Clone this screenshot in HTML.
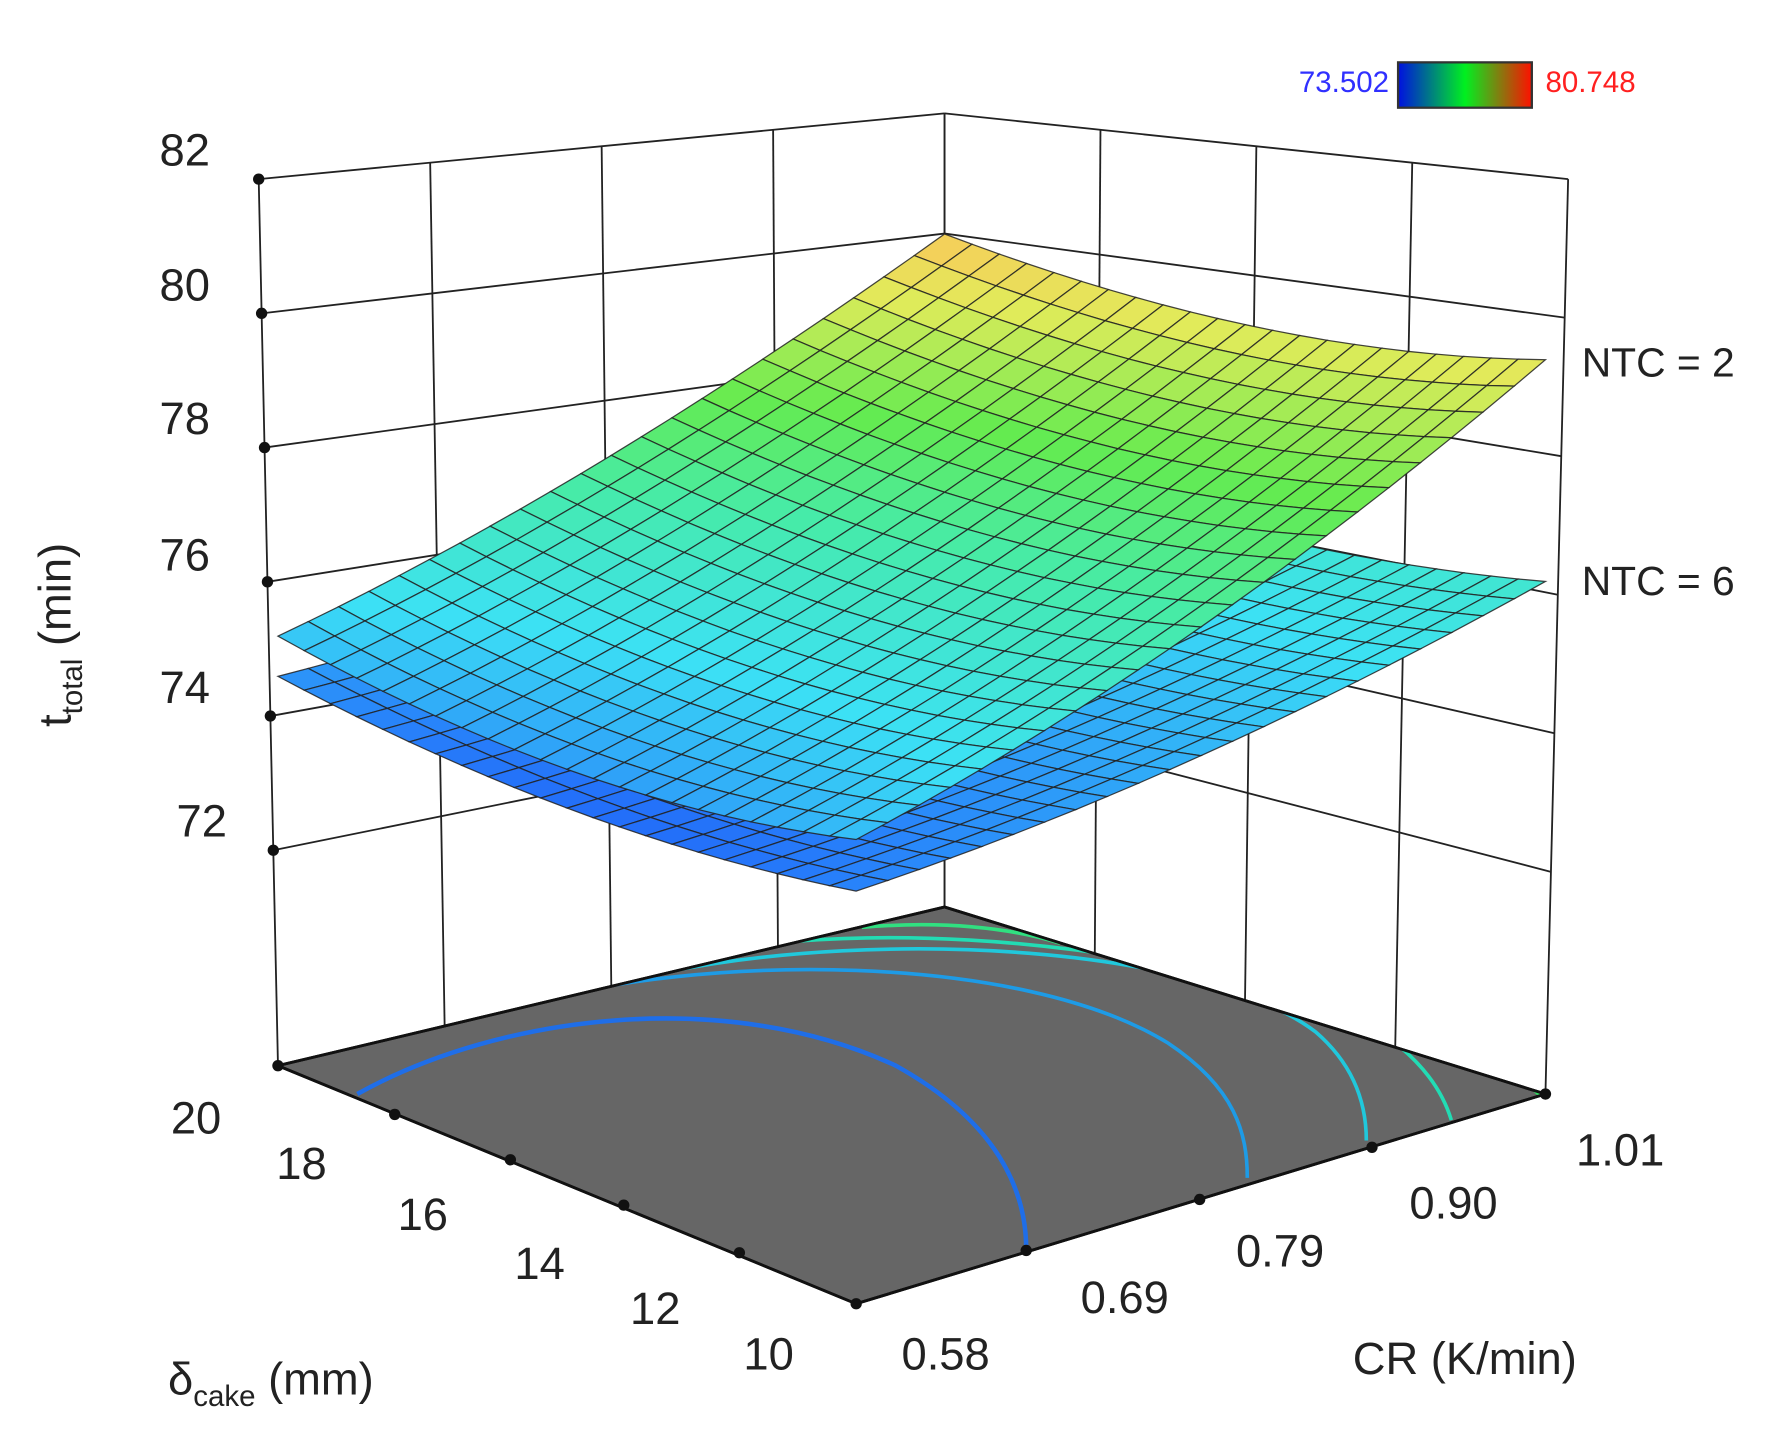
<!DOCTYPE html>
<html><head><meta charset="utf-8"><style>
html,body{margin:0;padding:0;background:#fff;}
svg{display:block;}
text{font-family:"Liberation Sans",sans-serif;}
</style></head><body>
<svg id="s" width="1769" height="1433" viewBox="0 0 1560 1264" xmlns="http://www.w3.org/2000/svg">
<defs>
<linearGradient id="cb" x1="0" x2="1" y1="0" y2="0">
<stop offset="0" stop-color="#0010e0"/><stop offset="0.5" stop-color="#00f020"/><stop offset="1" stop-color="#ff1000"/>
</linearGradient>
<clipPath id="fl"><polygon points="245,940 833,800 1363,965 755,1150"/></clipPath>
</defs>
<g id="walls" stroke="#222" stroke-width="1.6" fill="none"></g>
<polygon points="245,940 833,800 1363,965 755,1150" fill="#666" stroke="#111" stroke-width="2.5"/>
<g fill="none" stroke-width="3.2" clip-path="url(#fl)">
<path d="M315,965 C440,895 640,870 790,940 C880,990 905,1050 905,1102" stroke="#1f6ee8" stroke-width="4"/>
<path d="M455,888 C620,840 900,840 1030,920 C1090,960 1100,1000 1100,1039" stroke="#1e9be6"/>
<path d="M585,858 C780,818 1060,835 1160,910 C1195,940 1205,975 1205,1006" stroke="#20c8dc"/>
<path d="M705,830 C900,815 1130,860 1220,912 C1255,937 1272,962 1280,988" stroke="#22dcb4"/>
<path d="M760,818 C830,812 890,818 935,832" stroke="#30e080"/>
<path d="M1340,950 L1365,972" stroke="#30e060"/>
</g>
<polygon points="245,940 833,800 1363,965 755,1150" fill="none" stroke="#111" stroke-width="2.5"/>
<g id="surf"></g>
<g id="dots" fill="#111"></g>
<g font-size="40" fill="#222">
<text x="185" y="146" text-anchor="end">82</text>
<text x="185" y="265" text-anchor="end">80</text>
<text x="185" y="383" text-anchor="end">78</text>
<text x="185" y="503" text-anchor="end">76</text>
<text x="185" y="620" text-anchor="end">74</text>
<text x="200" y="738" text-anchor="end">72</text>
<text x="195" y="1000" text-anchor="end">20</text>
<text x="288" y="1040" text-anchor="end">18</text>
<text x="395" y="1085" text-anchor="end">16</text>
<text x="498" y="1128" text-anchor="end">14</text>
<text x="600" y="1168" text-anchor="end">12</text>
<text x="700" y="1208" text-anchor="end">10</text>
<text x="795" y="1208">0.58</text>
<text x="953" y="1158">0.69</text>
<text x="1090" y="1117">0.79</text>
<text x="1243" y="1075">0.90</text>
<text x="1390" y="1028">1.01</text>
<text x="1193" y="1212">CR (K/min)</text>
<text x="148" y="1230">δ<tspan font-size="26" dy="10">cake</tspan><tspan dy="-10"> (mm)</tspan></text>
<text transform="translate(62,560) rotate(-90)" text-anchor="middle">t<tspan font-size="26" dy="10">total</tspan><tspan dy="-10"> (min)</tspan></text>
<text x="1395" y="332" font-size="36">NTC = 2</text>
<text x="1395" y="525" font-size="36">NTC = 6</text>
</g>
<text x="1225" y="81" font-size="26" fill="#3030ff" text-anchor="end">73.502</text>
<rect x="1233" y="55" width="118" height="40" fill="url(#cb)" stroke="#333" stroke-width="2"/>
<text x="1363" y="81" font-size="26" fill="#ff2020">80.748</text>
</svg>
<script>
var NS="http://www.w3.org/2000/svg";
function el(p,t,a){var e=document.createElementNS(NS,t);for(var k in a)e.setAttribute(k,a[k]);p.appendChild(e);return e;}
var W=document.getElementById('walls');
function leftY(z,t){var yl=158+(82-z)*59.2, yc=100+(82-z)*53;return yl+(yc-yl)*t;}
function leftX(z,t){var xl=228+(82-z)*(17/13.2);return xl+(833-xl)*t;}
function rightY(z,t){var yc=100+(82-z)*53, yr=158+(82-z)*61.1;return yc+(yr-yc)*t;}
function rightX(z,t){var xr=1383-(82-z)*(20/13.2);return 833+(xr-833)*t;}
var zs=[82,80,78,76,74,72];
zs.forEach(function(z){
 el(W,'line',{x1:leftX(z,0),y1:leftY(z,0),x2:833,y2:leftY(z,1)});
 el(W,'line',{x1:833,y1:rightY(z,0),x2:rightX(z,1),y2:rightY(z,1)});
});
for(var i=0;i<=4;i++){var t=i/4;
 el(W,'line',{x1:leftX(82,t),y1:leftY(82,t),x2:leftX(68.8,t),y2:leftY(68.8,t)});
 el(W,'line',{x1:rightX(82,t),y1:rightY(82,t),x2:rightX(68.8,t),y2:rightY(68.8,t)});
}
var D=document.getElementById('dots');
zs.forEach(function(z){el(D,'circle',{cx:leftX(z,0),cy:leftY(z,0),r:5});});
[[245,940],[348,983],[450,1023],[550,1063],[652,1105],[755,1150],[905,1103],[1058,1058],[1210,1012],[1363,965]].forEach(function(p){el(D,'circle',{cx:p[0],cy:p[1],r:5});});
var F=[755,1150],L=[245,940],B=[833,800],R=[1363,965];
var sF=65,sL=59.2,sB=53,sR=61.1;
function proj(u,v,z){
 var a=(1-u)*(1-v),b=u*(1-v),c=u*v,d=(1-u)*v;
 var x=a*F[0]+b*L[0]+c*B[0]+d*R[0];
 var y=a*F[1]+b*L[1]+c*B[1]+d*R[1];
 var s=a*sF+b*sL+c*sB+d*sR;
 return [x,y-(z-68.8)*s];}
function z2(u,v){return 75.1+0.1*u+4.3*v+0.5*u*v-1.8*u*(1-u)-1.8*v*(1-v);}
function z6(u,v){return 74.4+0.2*u+1.8*v+0.2*u*v-1.4*u*(1-u)-1.2*v*(1-v);}
function col(z){
 var t=(z-73.5)/(80.75-73.5);t=Math.max(0,Math.min(1,t));
 var st=[[0,[20,50,245]],[0.12,[40,130,250]],[0.28,[60,225,245]],[0.45,[70,235,170]],[0.6,[100,235,80]],[0.78,[225,235,90]],[0.9,[250,200,90]],[1,[245,150,70]]];
 for(var i=1;i<st.length;i++){if(t<=st[i][0]){var a=st[i-1],b=st[i],f=(t-a[0])/(b[0]-a[0]);
 return 'rgb('+[0,1,2].map(function(k){return Math.round(a[1][k]+(b[1][k]-a[1][k])*f);}).join(',')+')';}}
 return 'rgb(245,150,70)';}
var S=document.getElementById('surf');
function draw(fz){
 var N=22,q=[];
 for(var i=0;i<N;i++)for(var j=0;j<N;j++)q.push([i,j]);
 q.sort(function(a,b){return (b[0]+b[1])-(a[0]+a[1]);});
 q.forEach(function(p){
  var u0=p[0]/N,u1=(p[0]+1)/N,v0=p[1]/N,v1=(p[1]+1)/N;
  var pts=[[u0,v0],[u1,v0],[u1,v1],[u0,v1]].map(function(c){return proj(c[0],c[1],fz(c[0],c[1]));});
  var zc=fz((u0+u1)/2,(v0+v1)/2);
  el(S,'polygon',{points:pts.map(function(p){return p[0].toFixed(1)+','+p[1].toFixed(1);}).join(' '),fill:col(zc),stroke:'#222','stroke-width':1.1,'stroke-opacity':0.85});
 });
}
draw(z6);draw(z2);
</script>
</body></html>
